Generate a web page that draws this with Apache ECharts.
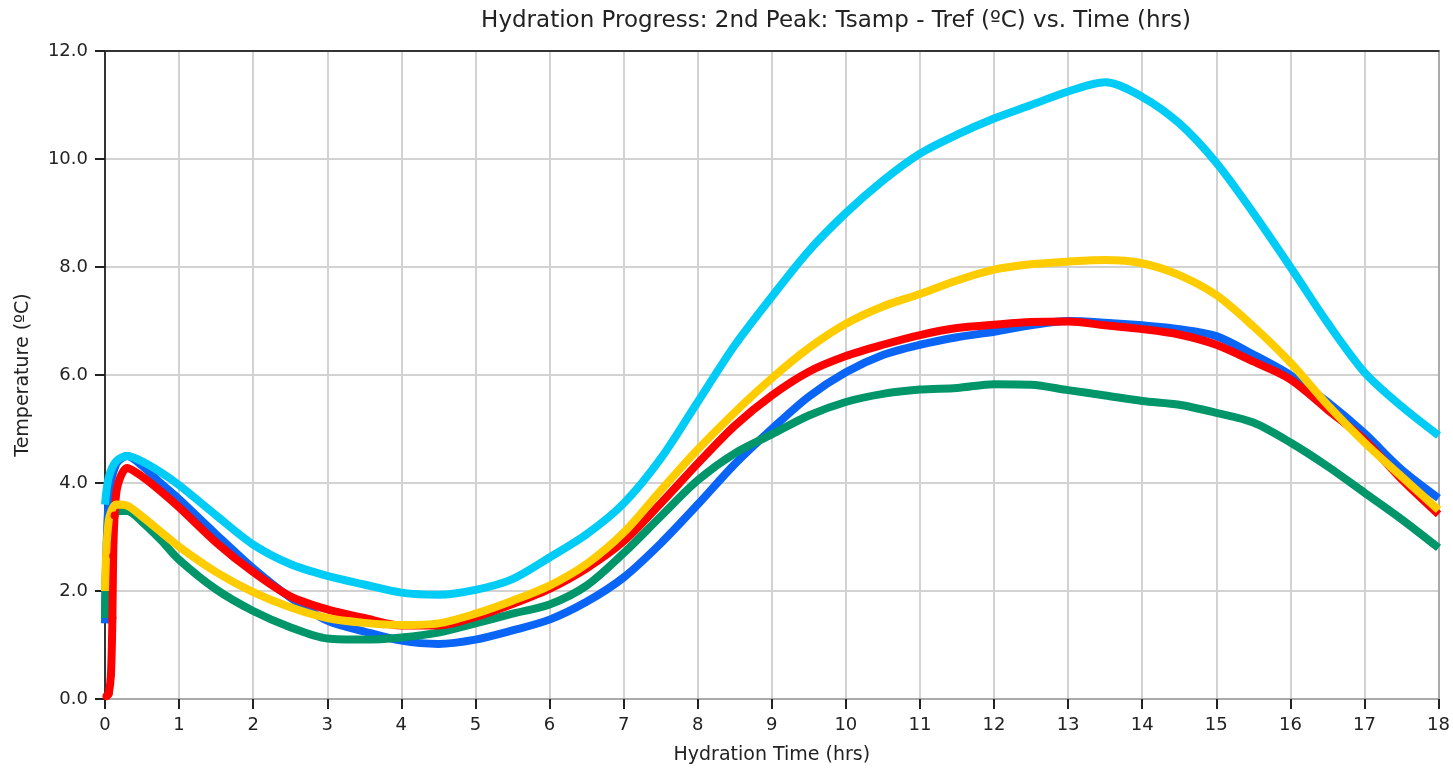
<!DOCTYPE html>
<html>
<head>
<meta charset="utf-8">
<script src="https://cdn.jsdelivr.net/npm/echarts@6/dist/echarts.min.js"></script>
<style>html,body{margin:0;padding:0;background:#fff}#c{width:1453px;height:770px}</style>
</head>
<body>
<div id="c"></div>
<script>
const hours = [0, 0.05, 0.15, 0.3, 0.5, 0.75, 1, 1.5, 2, 2.5, 3, 3.5, 4, 4.5, 5, 5.5, 6, 6.5, 7, 7.5, 8, 8.5, 9, 9.5, 10, 10.5, 11, 11.5, 12, 12.5, 13, 13.5, 14, 14.5, 15, 15.5, 16, 16.5, 17, 17.5, 18];
const cyanVals = [3.6, 4.1, 4.4, 4.5, 4.4, 4.2, 3.96, 3.4, 2.86, 2.5, 2.28, 2.12, 1.97, 1.93, 2.02, 2.22, 2.62, 3.05, 3.62, 4.45, 5.5, 6.55, 7.45, 8.3, 9.0, 9.6, 10.1, 10.45, 10.75, 11.0, 11.25, 11.42, 11.15, 10.66, 9.93, 9.0, 8.0, 6.97, 6.05, 5.42, 4.88];
const blueVals = [1.4, 3.7, 4.35, 4.5, 4.32, 4.0, 3.7, 3.05, 2.42, 1.88, 1.45, 1.25, 1.08, 1.02, 1.1, 1.27, 1.47, 1.8, 2.25, 2.88, 3.6, 4.35, 5.0, 5.6, 6.05, 6.37, 6.56, 6.7, 6.8, 6.92, 7.0, 6.97, 6.92, 6.85, 6.72, 6.38, 6.0, 5.5, 4.92, 4.25, 3.72];
const yellowVals = [2.0, 3.3, 3.6, 3.58, 3.38, 3.1, 2.82, 2.35, 1.98, 1.7, 1.5, 1.41, 1.37, 1.4, 1.58, 1.82, 2.1, 2.5, 3.08, 3.86, 4.62, 5.31, 5.94, 6.5, 6.95, 7.27, 7.5, 7.75, 7.95, 8.05, 8.1, 8.13, 8.07, 7.85, 7.48, 6.9, 6.23, 5.45, 4.75, 4.12, 3.5];
const greenVals = [1.5, 3.2, 3.48, 3.48, 3.28, 2.95, 2.58, 2.03, 1.63, 1.33, 1.12, 1.1, 1.14, 1.23, 1.4, 1.58, 1.75, 2.1, 2.7, 3.38, 4.05, 4.55, 4.9, 5.25, 5.5, 5.65, 5.73, 5.76, 5.83, 5.82, 5.72, 5.62, 5.52, 5.45, 5.3, 5.12, 4.75, 4.31, 3.82, 3.33, 2.8];
const redHours = [0.02, 0.05, 0.08, 0.1, 0.11, 0.13, 0.17, 0.3, 0.5, 0.75, 1, 1.5, 2, 2.5, 3, 3.5, 4, 4.5, 5, 5.5, 6, 6.5, 7, 7.5, 8, 8.5, 9, 9.5, 10, 10.5, 11, 11.5, 12, 12.5, 13, 13.5, 14, 14.5, 15, 15.5, 16, 16.5, 17, 17.5, 18];
const redVals = [0.05, 0.1, 0.45, 1.5, 2.65, 3.4, 3.95, 4.28, 4.12, 3.85, 3.55, 2.9, 2.35, 1.9, 1.66, 1.5, 1.36, 1.36, 1.52, 1.76, 2.04, 2.42, 2.92, 3.62, 4.36, 5.06, 5.62, 6.06, 6.35, 6.56, 6.74, 6.87, 6.93, 6.98, 6.99, 6.92, 6.85, 6.75, 6.56, 6.25, 5.92, 5.36, 4.8, 4.07, 3.42];
const xTicks = [0,1,2,3,4,5,6,7,8,9,10,11,12,13,14,15,16,17,18];
const yTicks = [0,2,4,6,8,10,12];

const pair = (xs, ys) => xs.map((x, i) => [x, ys[i]]);
const font = 'DejaVu Sans';
const chart = echarts.init(document.getElementById('c'));
function line(name, color, xs, ys, sym) {
  return {
    name, type: 'line', data: pair(xs, ys), smooth: 0.3,
    showSymbol: !!sym, symbol: 'circle',
    symbolSize: sym ? (v => (v[0] < 0.15 ? 8 : 0)) : 0,
    lineStyle: { color, width: 8 }, itemStyle: { color }, animation: false
  };
}
chart.setOption({
  animation: false,
  title: {
    text: 'Hydration Progress: 2nd Peak: Tsamp - Tref (ºC) vs. Time (hrs)',
    left: 831, top: 5, textAlign: 'center',
    textStyle: { fontFamily: font, fontSize: 23, fontWeight: 'normal', color: '#222' }
  },
  grid: { left: 105, right: 14, top: 51, bottom: 70 },
  xAxis: [{
    type: 'value', min: 0, max: 18, interval: 1,
    name: 'Hydration Time (hrs)', nameLocation: 'middle', nameGap: 47,
    nameTextStyle: { fontFamily: font, fontSize: 19, color: '#222' },
    axisLine: { show: true, onZero: false, lineStyle: { color: '#aaa', width: 2 } },
    axisTick: { show: true, length: 10, lineStyle: { color: '#222', width: 2 } },
    axisLabel: { fontFamily: font, fontSize: 18, color: '#222', margin: 17 },
    splitLine: { show: true, lineStyle: { color: '#d2d2d2', width: 2 } }
  }, {
    type: 'value', min: 0, max: 18, interval: 1, position: 'top',
    axisLine: { show: true, onZero: false, lineStyle: { color: '#333', width: 2 } },
    axisTick: { show: false }, axisLabel: { show: false }, splitLine: { show: false }
  }],
  yAxis: [{
    type: 'value', min: 0, max: 12, interval: 2,
    name: 'Temperature (ºC)', nameLocation: 'middle', nameGap: 72, nameRotate: 90,
    nameTextStyle: { fontFamily: font, fontSize: 19, color: '#222' },
    axisLine: { show: true, onZero: false, lineStyle: { color: '#333', width: 2 } },
    axisTick: { show: true, length: 10, lineStyle: { color: '#222', width: 2 } },
    axisLabel: { fontFamily: font, fontSize: 18, color: '#222', margin: 17, formatter: v => v.toFixed(1) },
    splitLine: { show: true, lineStyle: { color: '#d2d2d2', width: 2 } }
  }, {
    type: 'value', min: 0, max: 12, interval: 2, position: 'right',
    axisLine: { show: true, onZero: false, lineStyle: { color: '#aaa', width: 2 } },
    axisTick: { show: false }, axisLabel: { show: false }, splitLine: { show: false }
  }],
  series: [
    line('Blue', '#0a64f5', hours, blueVals, false),
    line('Green', '#00966a', hours, greenVals, false),
    line('Red', '#ff0000', redHours, redVals, true),
    line('Yellow', '#ffcc00', hours, yellowVals, false),
    line('Cyan', '#00ccf5', hours, cyanVals, false)
  ]
});
</script>
</body>
</html>
